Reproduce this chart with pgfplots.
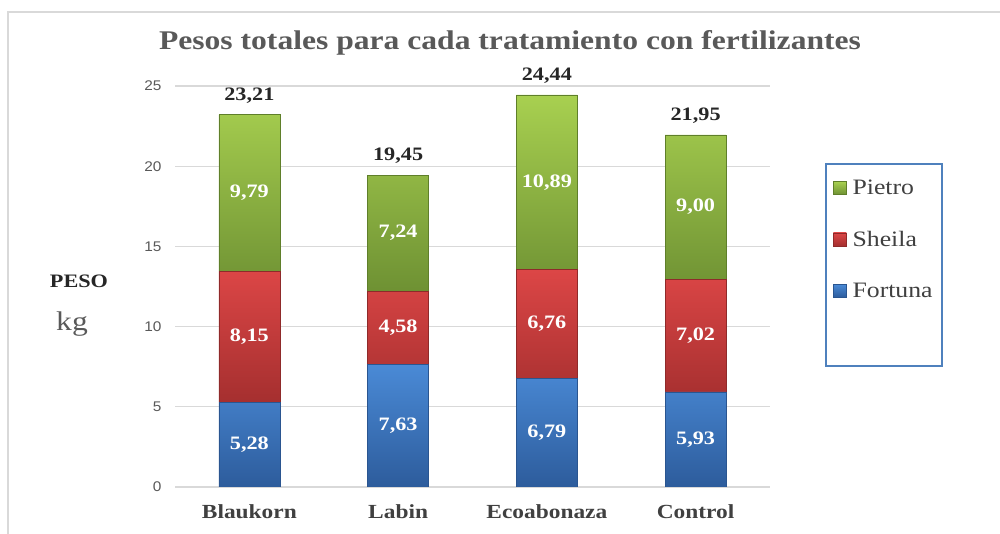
\documentclass[border=0pt]{standalone}
\usepackage{pgfplots}
\pgfplotsset{compat=1.18}
\usepackage{pgfplotstable}
\usepackage{fontspec}
\setmainfont{Liberation Serif}[FakeStretch=1.17]
\newfontfamily\ticksans{Liberation Sans}[FakeStretch=1.1]
\definecolor{titlegray}{HTML}{595959}
\definecolor{catgray}{HTML}{404040}
\definecolor{totgray}{HTML}{262626}
\definecolor{gridgray}{HTML}{D9D9D9}
\definecolor{legblue}{HTML}{4F81BD}
\definecolor{bluetop}{HTML}{4A8AD6}
\definecolor{bluebot}{HTML}{2D5C9C}
\definecolor{blueedge}{HTML}{2A5590}
\definecolor{redtop}{HTML}{DC4646}
\definecolor{redbot}{HTML}{A52F2F}
\definecolor{rededge}{HTML}{8F2A2A}
\definecolor{greentop}{HTML}{A8D050}
\definecolor{greenbot}{HTML}{6E9133}
\definecolor{greenedge}{HTML}{5F7F2A}

\pgfplotstableread{
x F S P T
0 5.28 8.15 9.79 23.21
1 7.63 4.58 7.24 19.45
2 6.79 6.76 10.89 24.44
3 5.93 7.02 9.00 21.95
}\data

\pgfplotsset{
  seglabel/.style={
    nodes near coords,
    point meta=explicit,
    nodes near coords style={anchor=center, text=white,
      font=\fontsize{19}{22}\selectfont\bfseries},
  },
  /pgf/number format/.cd, fixed, fixed zerofill, precision=2, use comma, assume math mode=true,
}

\begin{document}
\begin{tikzpicture}[x=1pt,y=1pt]
\useasboundingbox (0,0) rectangle (1000,534);
\draw[gridgray, line width=1.2pt] (8,0) -- (8,522) -- (1000,522);
\node[text=titlegray, font=\fontsize{27}{32}\selectfont\bfseries] at (510,491) {Pesos totales para cada tratamiento con fertilizantes};
\node[text=black!85, font=\fontsize{19}{22}\selectfont\bfseries] at (79,253) {PESO};
\node[text=titlegray, font=\fontsize{27}{32}\selectfont] at (72,210) {kg};
\begin{axis}[
  at={(175pt,47pt)}, anchor=south west,
  scale only axis, width=595pt, height=401pt,
  xmin=-0.5, xmax=3.5, ymin=0, ymax=25,
  ybar stacked, bar width=61pt,
  axis line style={draw=none}, tick style={draw=none},
  ymajorgrids, grid style={gridgray, line width=1.2pt},
  ytick={0,5,10,15,20,25},
  yticklabel style={font=\ticksans\fontsize{14}{17}\selectfont, text=titlegray, xshift=-10pt,
    /pgf/number format/.cd, int detect},
  xtick={0,1,2,3},
  xticklabels={Blaukorn,Labin,Ecoabonaza,Control},
  xticklabel style={font=\fontsize{20}{24}\selectfont\bfseries, text=catgray, yshift=-14pt},
  legend style={at={(1.0924,0.808)}, anchor=north west, /tikz/draw=legblue, line width=2pt,
    fill=white, font=\fontsize{22}{26}\selectfont, text=catgray, row sep=31pt,
    inner xsep=7pt, inner ysep=14pt, /tikz/every odd column/.append style={column sep=4pt}},
  legend cell align=left,
  legend image code/.code={\draw[#1, line width=0.6pt] (0pt,-6.5pt) rectangle (13pt,6.5pt);},
]
\addplot[forget plot, seglabel, top color=bluetop, bottom color=bluebot, draw=blueedge, line width=0.6pt] table[x=x, y=F, meta=F] {\data};
\addplot[forget plot, seglabel, top color=redtop, bottom color=redbot, draw=rededge, line width=0.6pt] table[x=x, y=S, meta=S] {\data};
\addplot[forget plot, seglabel, top color=greentop, bottom color=greenbot, draw=greenedge, line width=0.6pt] table[x=x, y=P, meta=P] {\data};
\addlegendimage{top color=greentop, bottom color=greenbot, draw=greenedge}
\addlegendentry{Pietro}
\addlegendimage{top color=redtop, bottom color=redbot, draw=rededge}
\addlegendentry{Sheila}
\addlegendimage{top color=bluetop, bottom color=bluebot, draw=blueedge}
\addlegendentry{Fortuna}
\addlegendimage{legend image code/.code={}}
\addlegendentry{\phantom{X}}
\end{axis}
\begin{axis}[
  at={(175pt,47pt)}, anchor=south west,
  scale only axis, width=595pt, height=401pt,
  xmin=-0.5, xmax=3.5, ymin=0, ymax=25,
  hide axis,
]
\addplot[draw=none, mark=none, nodes near coords, point meta=explicit,
  nodes near coords style={anchor=south, yshift=8pt, text=totgray, font=\fontsize{19}{22}\selectfont\bfseries}]
  table[x=x, y=T, meta=T] {\data};
\end{axis}
\end{tikzpicture}
\end{document}
